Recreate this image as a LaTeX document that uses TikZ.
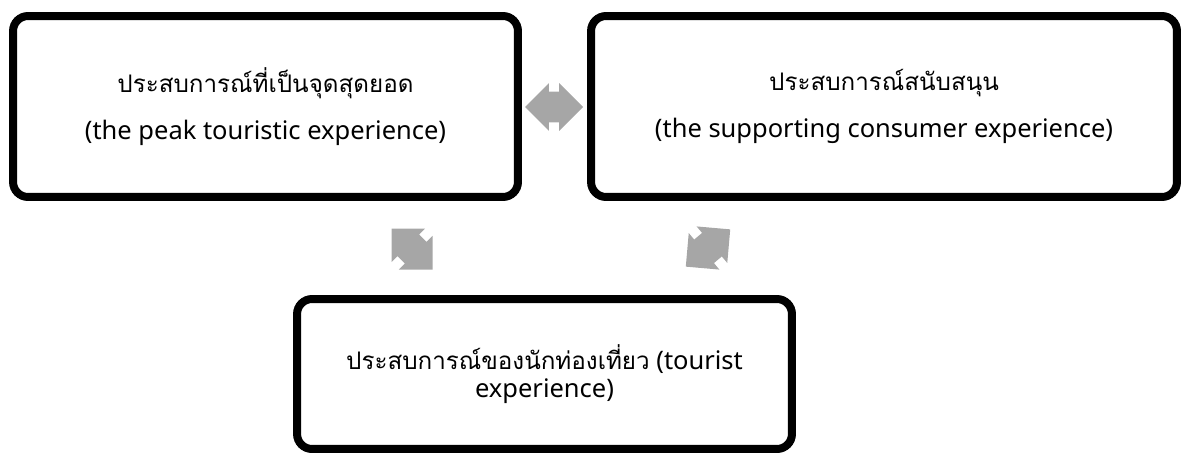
\documentclass[tikz,border=0pt]{standalone}
\usepackage{fontspec}
\setmainfont{Noto Sans}
\newfontfamily\thaifont[Script=Thai, Scale=0.95]{Loma}
\usetikzlibrary{shapes.arrows}
\definecolor{arrowgray}{HTML}{A6A6A6}

\begin{document}
\begin{tikzpicture}[x=0.02cm, y=-0.02cm,
    box/.style={draw=black, line width=0.16cm, rounded corners=0.3cm, align=center, inner sep=0pt, font=\fontsize{14.5}{16}\selectfont},
    link/.style={double arrow, fill=arrowgray, inner xsep=0pt, inner ysep=0.3cm, minimum height=1.16cm, double arrow head extend=0.17cm}]
  \useasboundingbox (0,0) rectangle (1182,453);
  \node[box, minimum width=10.1cm, minimum height=3.62cm] (peak) at (265.5,106.5)
    {{\thaifont ประสบการณ์ที่เป็นจุดสุดยอด}\\[10.7pt] (the peak touristic experience)};
  \node[box, minimum width=11.72cm, minimum height=3.62cm] (support) at (884,106.5)
    {{\thaifont ประสบการณ์สนับสนุน}\\[10.7pt] (the supporting consumer experience)};
  \node[box, minimum width=9.9cm, minimum height=3cm] (tourist) at (544.5,374)
    {{\thaifont ประสบการณ์ของนักท่องเที่ยว} (tourist\\ experience)};
  % arrows between the boxes
  \node[link] (peaksupport) at (554,107) {};
  \node[link, rotate=-45] (peaktourist) at (412,249) {};
  \node[link, rotate=40] (touristsupport) at (708,248) {};
\end{tikzpicture}
\end{document}
